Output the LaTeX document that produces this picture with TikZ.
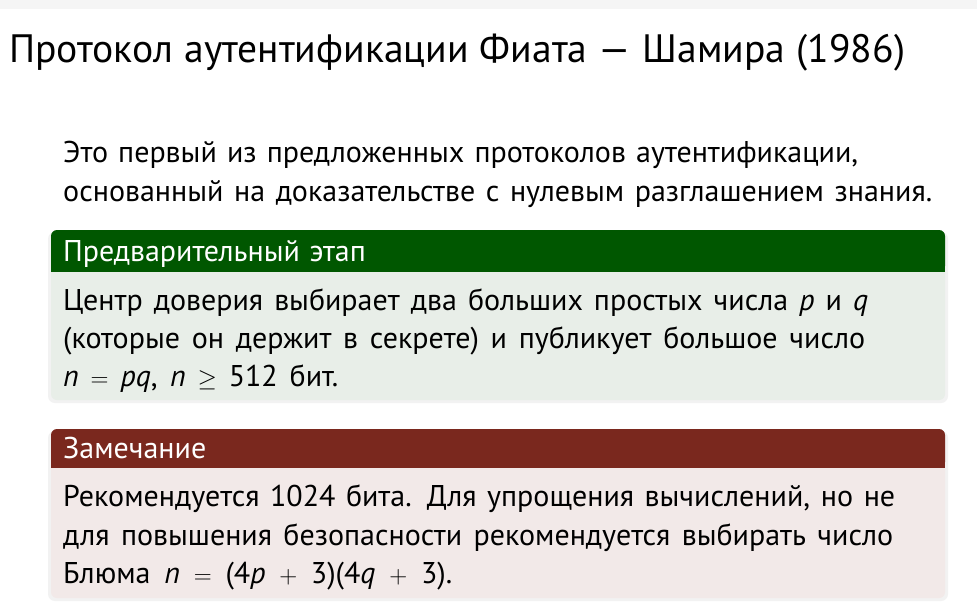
\documentclass[tikz,border=0pt]{standalone}
\usepackage{fontspec}
\setmainfont{PT Sans}[WordSpace=1.2]
\usetikzlibrary{calc}
\definecolor{topband}{HTML}{F5F5F5}
\definecolor{greenhead}{HTML}{005700}
\definecolor{greenbody}{HTML}{E8EEE8}
\definecolor{redhead}{HTML}{7A281E}
\definecolor{redbody}{HTML}{F2E9E8}
\tikzset{
  txt/.style={anchor=base west, inner sep=0pt, font=\fontsize{30}{36}\selectfont, text=black},
  headtxt/.style={anchor=base west, inner sep=0pt, font=\fontsize{30}{36}\selectfont, text=white},
  titletxt/.style={anchor=base west, inner sep=0pt, font=\fontsize{39.6}{48}\selectfont, text=black},
  shadowbox/.style={fill=black!5, rounded corners=7pt},
}
\newcommand{\mi}[1]{\textit{#1}}
\newcommand{\jline}[2]{\makebox[#1pt][s]{#2}}
\begin{document}
\begin{tikzpicture}[x=1pt,y=-1pt]
\useasboundingbox (0,0) rectangle (977,613);
\fill[white] (0,0) rectangle (977,613);
\fill[topband] (0,0) rectangle (977,9);
% title
\node[titletxt] (title) at (9,62.5) {\jline{896}{Протокол аутентификации Фиата — Шамира (1986)}};
% intro
\node[txt] (intro1) at (63,162.5) {\jline{795}{Это первый из предложенных протоколов аутентификации,}};
\node[txt] (intro2) at (63,201.5) {\jline{869}{основанный на доказательстве с нулевым разглашением знания.}};
% green block
\fill[shadowbox] (48,232) rectangle (948,403);
\fill[greenbody,rounded corners=6pt] (51,230) rectangle (945,400);
\fill[greenhead,rounded corners=6pt] (51,230) rectangle (945,272);
\fill[greenhead] (51,262) rectangle (945,272);
\fill[greenbody] (51,272) rectangle (945,282);
\node[headtxt] (gh) at (63,261.5) {Предварительный этап};
\node[txt] (g1) at (63,310) {\jline{805}{Центр доверия выбирает два больших простых числа \mi{p} и \mi{q}}};
\node[txt] (g2) at (63,348) {\jline{802}{(которые он держит в секрете) и публикует большое число}};
\node[txt] (g3) at (63,386) {\jline{275}{\mi{n} $=$ \mi{pq}, \mi{n} $\geq$ 512 бит.}};
% red block
\fill[shadowbox] (48,431) rectangle (948,601);
\fill[redbody,rounded corners=6pt] (51,429) rectangle (945,598);
\fill[redhead,rounded corners=6pt] (51,429) rectangle (945,468);
\fill[redhead] (51,458) rectangle (945,468);
\fill[redbody] (51,468) rectangle (945,478);
\node[headtxt] (rh) at (63,458) {Замечание};
\node[txt] (r1) at (63,506.5) {\jline{832}{Рекомендуется 1024 бита. Для упрощения вычислений, но не}};
\node[txt] (r2) at (63,545) {\jline{830}{для повышения безопасности рекомендуется выбирать число}};
\node[txt] (r3) at (63,583.5) {\jline{389}{Блюма \mi{n} $=$ (4\mi{p} $+$ 3)(4\mi{q} $+$ 3).}};
\end{tikzpicture}
\end{document}
